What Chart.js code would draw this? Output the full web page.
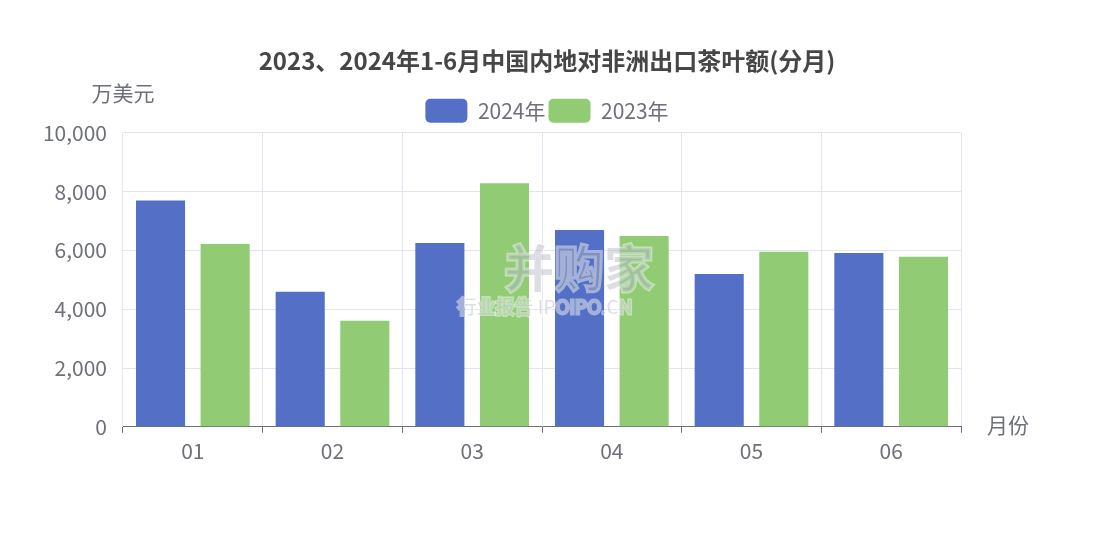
<!DOCTYPE html>
<html><head><meta charset="utf-8">
<script src="https://cdn.jsdelivr.net/npm/chart.js@4.4.1/dist/chart.umd.min.js"></script>
<style>html,body{margin:0;padding:0;background:#fff}#wrap{width:1094px;height:556px}</style>
</head><body><div id="wrap"><canvas id="c" width="1094" height="556"></canvas></div>
<script>
const categories = ['01','02','03','04','05','06'];
const series2024 = [7700, 4590, 6250, 6690, 5200, 5910];
const series2023 = [6220, 3610, 8280, 6490, 5950, 5780];
const yTicks = [0, 2000, 4000, 6000, 8000, 10000];
const titleText = '2023、2024年1-6月中国内地对非洲出口茶叶额(分月)';
const yName = '万美元';
const xName = '月份';
const FONT = '"Noto Sans CJK SC", "Noto Sans", sans-serif';

const axisNames = {
  id: 'axisNames',
  afterDraw(chart) {
    const {ctx, chartArea} = chart;
    ctx.save();
    ctx.fillStyle = '#6e7079';
    ctx.font = '21px ' + FONT;
    ctx.textAlign = 'center';
    ctx.textBaseline = 'middle';
    ctx.fillText(yName, chartArea.left, chartArea.top - 40);
    ctx.textAlign = 'left';
    ctx.fillText(xName, chartArea.right + 26, chartArea.bottom - 2);
    // watermark
    ctx.globalAlpha = 0.45;
    ctx.textAlign = 'center';
    ctx.font = 'bold 50px ' + FONT;
    ctx.lineWidth = 3; ctx.strokeStyle = '#ffffff';
    ctx.strokeText('并购家', 579, 268);
    ctx.fillStyle = '#b0b5be';
    ctx.fillText('并购家', 579, 268);
    ctx.font = '19px ' + FONT;
    ctx.strokeText('行业报告 IPOIPO.CN', 545, 307);
    ctx.fillText('行业报告 IPOIPO.CN', 545, 307);
    ctx.restore();
  }
};

new Chart(document.getElementById('c'), {
  type: 'bar',
  data: {
    labels: categories,
    datasets: [
      {label: '2024年', data: series2024, backgroundColor: '#5470c6', borderWidth: 0},
      {label: '2023年', data: series2023, backgroundColor: '#91cc75', borderWidth: 0}
    ]
  },
  options: {
    responsive: false,
    animation: false,
    devicePixelRatio: 1,
    layout: {padding: {top: 46, left: 20, right: 20, bottom: 86}},
    datasets: {bar: {categoryPercentage: 0.925, barPercentage: 0.76}},
    plugins: {
      title: {display: true, text: titleText, color: '#464646',
        font: {family: FONT, size: 24, weight: 'bold'}, padding: {top: 0, bottom: 21}},
      legend: {display: true, position: 'top',
        labels: {color: '#6e7079', font: {family: FONT, size: 21}, boxWidth: 42, boxHeight: 24,
          useBorderRadius: true, borderRadius: 5, padding: 3}},
      tooltip: {enabled: false}
    },
    scales: {
      x: {
        grid: {display: true, color: '#e0e6f1', offset: true, tickColor: '#6e7079', tickLength: 6},
        border: {display: true, color: '#6e7079', width: 1},
        ticks: {color: '#6e7079', font: {family: FONT, size: 21}, padding: 6}
      },
      y: {
        min: 0, max: 10000,
        afterBuildTicks(axis) { axis.ticks = yTicks.map(v => ({value: v})); },
        afterFit(axis) { axis.width = 103; },
        grid: {color: '#e0e6f1', drawTicks: false},
        border: {display: false},
        ticks: {color: '#6e7079', font: {family: FONT, size: 21}, padding: 16,
          callback: v => v.toLocaleString('en-US')}
      },
      yR: {
        position: 'right', display: true,
        afterFit(axis) { axis.width = 113; },
        grid: {display: false, drawTicks: false},
        border: {display: false},
        ticks: {display: false}
      }
    }
  },
  plugins: [axisNames]
});
</script></body></html>
